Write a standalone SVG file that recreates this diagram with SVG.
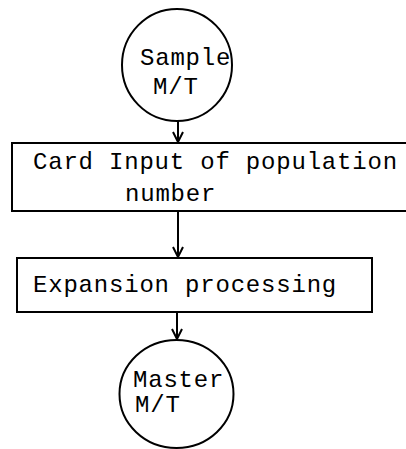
<svg xmlns="http://www.w3.org/2000/svg" width="406" height="449" viewBox="0 0 406 449">
<defs>
<style>
.shape{fill:none;stroke:#000;stroke-width:2}
.conn{fill:none;stroke:#000;stroke-width:2}
.t{font-family:"Liberation Mono","Courier New",monospace;font-size:24px;letter-spacing:0.8px;fill:#000}
</style>
<marker id="arr" viewBox="0 0 12 12" refX="11" refY="6" markerWidth="12" markerHeight="12" markerUnits="userSpaceOnUse" orient="auto">
<path d="M1,1 L11,6 L1,11" fill="none" stroke="#000" stroke-width="2"/>
</marker>
</defs>
<rect width="406" height="449" fill="#fff"/>
<g id="connectors">
<line class="conn" x1="178" y1="121" x2="178" y2="142" marker-end="url(#arr)"/>
<line class="conn" x1="178" y1="211" x2="178" y2="257" marker-end="url(#arr)"/>
<line class="conn" x1="177" y1="312" x2="177" y2="339" marker-end="url(#arr)"/>
</g>
<g id="sample">
<ellipse class="shape" cx="177" cy="65" rx="55" ry="56"/>
<text class="t" x="140" y="65">Sample</text>
<text class="t" x="153" y="94">M/T</text>
</g>
<g id="card-input">
<path class="shape" d="M410,143 L12,143 L12,211 L410,211"/>
<text class="t" x="33" y="169">Card Input of population</text>
<text class="t" x="125" y="201">number</text>
</g>
<g id="expansion">
<rect class="shape" x="17" y="258" width="355" height="54"/>
<text class="t" x="33" y="292">Expansion processing</text>
</g>
<g id="master">
<ellipse class="shape" cx="176.5" cy="394" rx="57" ry="54"/>
<text class="t" x="133" y="387">Master</text>
<text class="t" x="135" y="412">M/T</text>
</g>
</svg>
